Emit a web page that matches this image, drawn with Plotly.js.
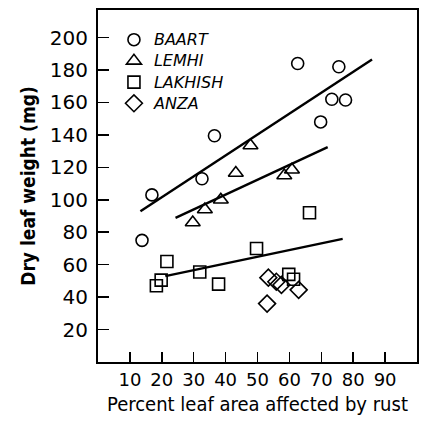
<!DOCTYPE html>
<html>
<head>
<meta charset="utf-8">
<script src="https://cdn.plot.ly/plotly-3.0.1.min.js"></script>
<style>html,body{margin:0;padding:0;background:#fff;}#chart{width:421px;height:423px;}</style>
</head>
<body>
<div id="chart"></div>
<script>
// Data
const baartX = [16.9, 13.8, 32.6, 36.5, 62.6, 75.5, 73.3, 77.6, 69.8];
const baartY = [103, 75, 113, 139.5, 184, 182, 162, 161.5, 148];
const lemhiX = [29.7, 33.5, 38.5, 43.2, 47.8, 58.4, 60.8];
const lemhiY = [86, 94, 100, 116.5, 133.5, 115, 118.5];
const lakhishX = [18.3, 19.8, 21.6, 31.9, 37.8, 49.7, 59.8, 61.3, 66.3];
const lakhishY = [47, 50.5, 62, 55.5, 48, 70, 54, 51, 92];
const anzaX = [53.4, 55.9, 57.5, 53.0, 62.9];
const anzaY = [52, 49.5, 47.5, 36, 44.5];
// fitted lines (end points)
const baartFitX = [13.3, 85.9];
const baartFitY = [93, 186.5];
const lemhiFitX = [24.3, 72.0];
const lemhiFitY = [88.8, 132.5];
const lakhishFitX = [21.1, 76.7];
const lakhishFitY = [52.9, 75.9];
const xTicks = [10, 20, 30, 40, 50, 60, 70, 80, 90];
const yTicks = [20, 40, 60, 80, 100, 120, 140, 160, 180, 200];

const mk = (sym, size) => ({symbol: sym, size: size, color: '#000', line: {color: '#000', width: 1.6}});
const nm = s => '<span style="font-size:16px">' + s + '</span>';
const traces = [
  {x: baartX, y: baartY, name: nm('BAART'), type: 'scatter', mode: 'markers', marker: mk('circle-open', 12)},
  {x: lemhiX, y: lemhiY, name: nm('LEMHI'), type: 'scatter', mode: 'markers', marker: mk('triangle-up-open', 13)},
  {x: lakhishX, y: lakhishY, name: nm('LAKHISH'), type: 'scatter', mode: 'markers', marker: mk('square-open', 12)},
  {x: anzaX, y: anzaY, name: nm('ANZA'), type: 'scatter', mode: 'markers', marker: mk('diamond-open', 13)},
  {x: baartFitX, y: baartFitY, mode: 'lines', type: 'scatter', showlegend: false, line: {color: '#000', width: 2.4}, hoverinfo: 'skip'},
  {x: lemhiFitX, y: lemhiFitY, mode: 'lines', type: 'scatter', showlegend: false, line: {color: '#000', width: 2.4}, hoverinfo: 'skip'},
  {x: lakhishFitX, y: lakhishFitY, mode: 'lines', type: 'scatter', showlegend: false, line: {color: '#000', width: 2.4}, hoverinfo: 'skip'}
];

const layout = {
  width: 421, height: 423,
  margin: {l: 98, r: 4, t: 10, b: 61},
  paper_bgcolor: '#fff', plot_bgcolor: '#fff',
  showlegend: true,
  legend: {x: 0.05, y: 0.96, xanchor: 'left', yanchor: 'top', bgcolor: 'rgba(0,0,0,0)',
           font: {family: 'DejaVu Sans', size: 14, style: 'italic', color: '#000'}, itemwidth: 30, tracegroupgap: 0},
  xaxis: {
    range: [0, 100], tickvals: xTicks, ticktext: xTicks.map(String),
    ticks: 'inside', ticklen: 10, tickwidth: 1.5, tickcolor: '#000',
    showline: true, linecolor: '#000', linewidth: 2, mirror: true,
    showgrid: false, zeroline: false, tickfont: {family: 'DejaVu Sans', size: 18, color: '#000'},
    title: {text: 'Percent leaf area affected by rust', font: {family: 'DejaVu Sans Condensed', size: 20, color: '#000'}, standoff: 8}
  },
  yaxis: {
    range: [0, 217], tickvals: yTicks, ticktext: yTicks.map(String),
    ticks: 'inside', ticklen: 11, tickwidth: 1.5, tickcolor: '#000', ticklabelstandoff: 4,
    showline: true, linecolor: '#000', linewidth: 2, mirror: true,
    showgrid: false, zeroline: false, tickfont: {family: 'DejaVu Sans', size: 20, color: '#000'},
    title: {text: 'Dry leaf weight (mg)', font: {family: 'DejaVu Sans Condensed', size: 19, weight: 'bold', color: '#000'}, standoff: 9}
  }
};
Plotly.newPlot('chart', traces, layout, {displayModeBar: false, staticPlot: true});
</script>
</body>
</html>
